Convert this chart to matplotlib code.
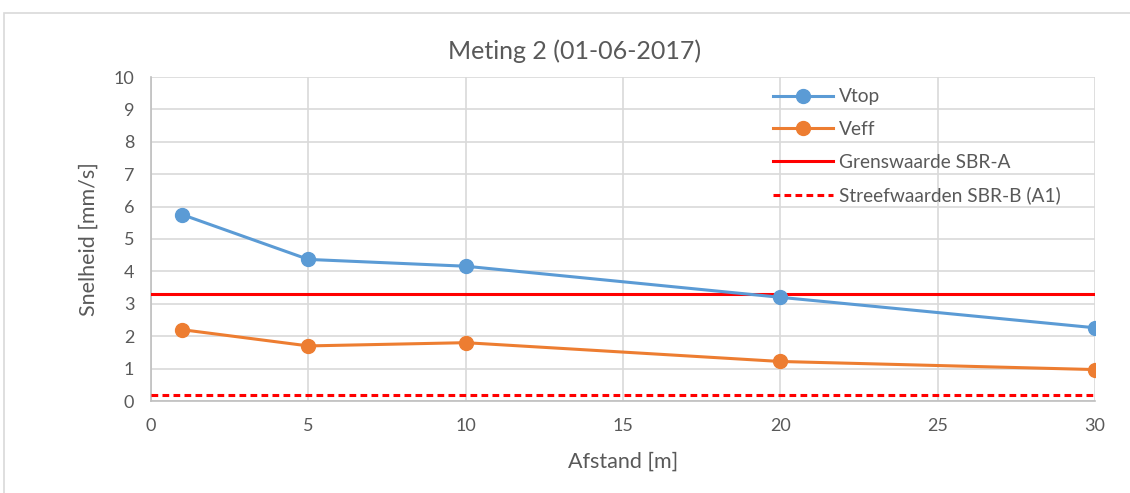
import matplotlib
matplotlib.use("Agg")
import matplotlib.pyplot as plt
from matplotlib.patches import Rectangle

plt.rcParams['font.family'] = ['Lato', 'DejaVu Sans']

afstand = [1, 5, 10, 20, 30]
vtop = [5.75, 4.37, 4.16, 3.20, 2.26]
veff = [2.20, 1.70, 1.80, 1.22, 0.97]
grenswaarde = 3.30
streefwaarde = 0.17

title = "Meting 2 (01-06-2017)"
xlabel = "Afstand [m]"
ylabel = "Snelheid [mm/s]"
xticks = [0, 5, 10, 15, 20, 25, 30]
yticks = list(range(0, 11))

W, H = 1130, 493
fig = plt.figure(figsize=(W / 100, H / 100), dpi=100)
fig.patches.append(Rectangle((4 / W, -0.1), 1.2, 1 - 13 / H + 0.1, transform=fig.transFigure,
                             fill=False, edgecolor='#d9d9d9', linewidth=1.2))

ax = fig.add_axes([151 / W, 1 - 401 / H, (1095 - 151) / W, (401 - 77) / H])

txt = '#595959'
grid = '#d9d9d9'

ax.plot(afstand, vtop, color='#5B9BD5', lw=2.2, marker='o', ms=10, label='Vtop', zorder=4)
ax.plot(afstand, veff, color='#ED7D31', lw=2.2, marker='o', ms=10, label='Veff', zorder=4)
ax.axhline(grenswaarde, color='#FF0000', lw=2.2, label='Grenswaarde SBR-A', zorder=3)
ax.axhline(streefwaarde, color='#FF0000', lw=2.2, ls=(0, (2.2, 1.4)),
           label='Streefwaarden SBR-B (A1)', zorder=3)

ax.set_xlim(0, 30)
ax.set_ylim(0, 10)
ax.set_xticks(xticks)
ax.set_yticks(yticks)
ax.grid(True, color=grid, lw=1.2, zorder=0)
ax.set_axisbelow(True)
for s in ['top', 'right']:
    ax.spines[s].set_visible(False)
for s in ['left', 'bottom']:
    ax.spines[s].set_color('#bfbfbf')
    ax.spines[s].set_linewidth(1.2)
ax.tick_params(length=0, labelsize=13, labelcolor=txt, pad=12)

ax.set_xlabel(xlabel, fontsize=15.5, color=txt, labelpad=13)
ax.set_ylabel(ylabel, fontsize=15.5, color=txt, labelpad=11)
fig.text(575 / W, 1 - 51 / H, title, ha='center', va='center', fontsize=18, color=txt)

leg = ax.legend(loc='upper left', bbox_to_anchor=(756 / W, 1 - 71 / H),
                bbox_transform=fig.transFigure, frameon=False, fontsize=13.8,
                handlelength=3.1, labelspacing=0.82, handletextpad=0.35)
for t in leg.get_texts():
    t.set_color(txt)

fig.savefig('out.png', dpi=100, facecolor='white')
